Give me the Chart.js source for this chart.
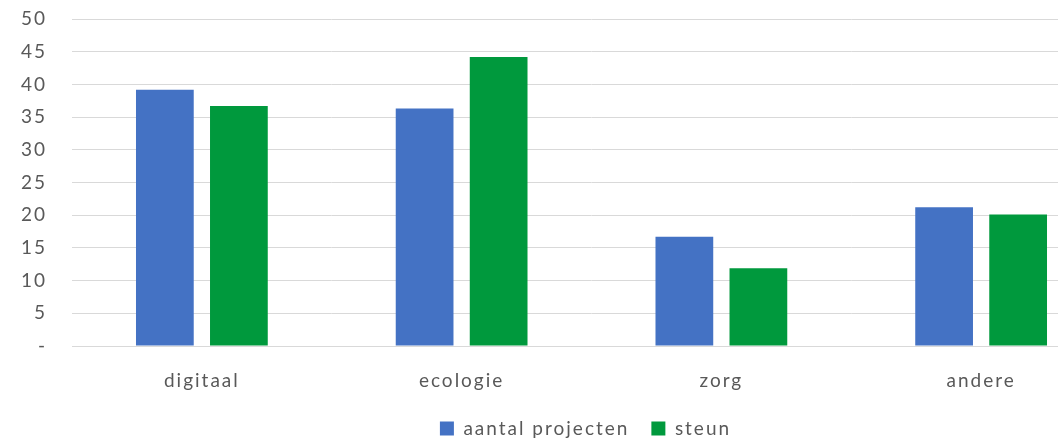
<!DOCTYPE html>
<html>
<head>
<meta charset="utf-8">
<script src="https://cdn.jsdelivr.net/npm/chart.js@4/dist/chart.umd.min.js"></script>
<style>
  html, body { margin: 0; padding: 0; background: #fff; overflow: hidden; }
  /* the source picture is a crop of a wider chart */
  #wrap { width: 1170px; height: 439px; }
</style>
</head>
<body>
<div id="wrap"><canvas id="chart"></canvas></div>
<script>
const categories = ['digitaal', 'ecologie', 'zorg', 'andere'];
const aantalProjecten = [39.2, 36.3, 16.7, 21.2];
const steun = [36.7, 44.2, 11.9, 20.1];
const yTicks = [0, 5, 10, 15, 20, 25, 30, 35, 40, 45, 50];

// the source text is spaced out a bit, like a PDF export
const spacing = {
  id: 'spacing',
  beforeLayout: c => { c.ctx.letterSpacing = '2px'; },
  beforeDraw: c => { c.ctx.letterSpacing = '2px'; }
};

// legend sits centred on the full (uncropped) width in the source
const legendShift = {
  id: 'legendShift',
  afterLayout: c => {
    if (c.legend) { c.legend.left += 30; c.legend.right += 30; }
  }
};

const ctx = document.getElementById('chart');
new Chart(ctx, {
  type: 'bar',
  data: {
    labels: categories,
    datasets: [
      { label: 'aantal projecten', data: aantalProjecten, backgroundColor: '#4472C4' },
      { label: 'steun', data: steun, backgroundColor: '#00993D' }
    ]
  },
  plugins: [spacing, legendShift],
  options: {
    responsive: true,
    maintainAspectRatio: false,
    animation: false,
    categoryPercentage: 0.57,
    barPercentage: 0.78,
    layout: { padding: { left: 0, right: 59, top: 19, bottom: -9 } },
    plugins: {
      legend: {
        position: 'bottom',
        labels: {
          font: { family: 'Lato', size: 19 },
          color: '#595959',
          boxWidth: 14,
          boxHeight: 14,
          padding: 22
        }
      },
      tooltip: { enabled: false }
    },
    scales: {
      x: {
        grid: { display: false },
        border: { color: '#d9d9d9', width: 1 },
        ticks: { font: { family: 'Lato', size: 19 }, color: '#595959', padding: 15 },
        afterFit: s => { s.height = 51; }
      },
      y: {
        min: 0,
        max: 50,
        afterBuildTicks: axis => { axis.ticks = yTicks.map(v => ({ value: v })); },
        grid: { color: '#d9d9d9', drawTicks: false },
        border: { display: false },
        ticks: {
          font: { family: 'Lato', size: 19 },
          color: '#595959',
          padding: 25,
          callback: v => v === 0 ? '-' : v
        },
        afterFit: s => { s.width = 72; s.paddingTop = 11; s.paddingBottom = 0; }
      }
    }
  }
});
</script>
</body>
</html>
